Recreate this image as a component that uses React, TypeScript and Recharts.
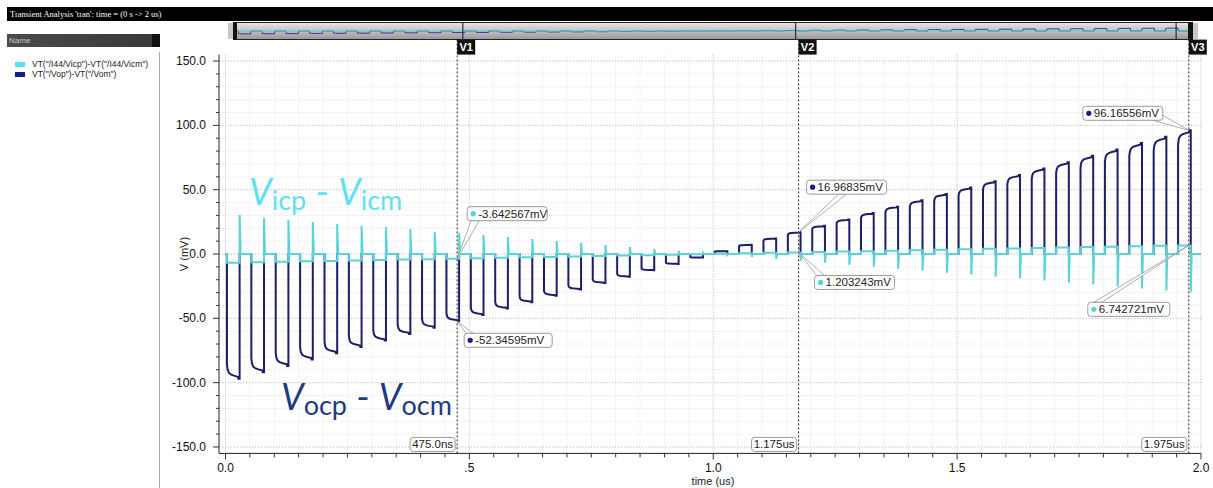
import React from 'react';
import { LineChart, Line, XAxis, YAxis, CartesianGrid, ReferenceLine, ReferenceDot } from 'recharts';

// amplify-phase window of each 50ns clock period (us)
const pulseStart = [
  0.003, 0.053, 0.103, 0.153, 0.203, 0.253, 0.303, 0.353, 0.403, 0.453,
  0.503, 0.553, 0.603, 0.653, 0.703, 0.753, 0.803, 0.853, 0.903, 0.953,
  1.003, 1.053, 1.103, 1.153, 1.203, 1.253, 1.303, 1.353, 1.403, 1.453,
  1.503, 1.553, 1.603, 1.653, 1.703, 1.753, 1.803, 1.853, 1.903, 1.953,
];
const pulseEnd = [
  0.029, 0.079, 0.129, 0.179, 0.229, 0.279, 0.329, 0.379, 0.429, 0.479,
  0.529, 0.579, 0.629, 0.679, 0.729, 0.779, 0.829, 0.879, 0.929, 0.979,
  1.029, 1.079, 1.129, 1.179, 1.229, 1.279, 1.329, 1.379, 1.429, 1.479,
  1.529, 1.579, 1.629, 1.679, 1.729, 1.779, 1.829, 1.879, 1.929, 1.979,
];

// settled output level at the end of each pulse, Vop-Vom (mV)
const voLevel = [
  -97.0, -92.0, -87.1, -82.1, -77.2, -72.2, -67.3, -62.2, -57.3, -52.3,
  -47.4, -42.4, -37.5, -32.5, -27.6, -22.6, -17.7, -12.7, -7.7, -2.8,
  2.2, 7.1, 12.1, 17.0, 21.9, 26.9, 31.8, 36.8, 41.7, 46.7,
  51.6, 56.6, 61.5, 66.5, 71.4, 76.4, 81.3, 86.3, 91.2, 96.2,
];

// input level during each pulse, Vicp-Vicm (mV)
const viLevel = [
  -6.8, -6.4, -6.1, -5.7, -5.4, -5.0, -4.7, -4.3, -4.0, -3.6,
  -3.3, -2.9, -2.6, -2.3, -1.9, -1.6, -1.2, -0.9, -0.5, -0.2,
  0.2, 0.5, 0.9, 1.2, 1.5, 1.9, 2.2, 2.6, 2.9, 3.3,
  3.6, 4.0, 4.3, 4.7, 5.0, 5.4, 5.7, 6.0, 6.4, 6.7,
];

// kick-back spike on the input at the end of each pulse (mV)
const viSpike = [
  30.3, 28.0, 26.4, 24.9, 23.3, 21.8, 21.0, 19.4, 17.0, 16.3,
  14.7, 13.2, 11.6, 10.1, 8.6, 7.0, 5.5, 3.9, 2.4, 0.9,
  -0.7, -2.2, -3.8, -5.3, -6.8, -8.4, -9.9, -11.4, -13.0, -14.5,
  -16.0, -17.6, -19.1, -20.6, -22.2, -23.7, -25.3, -26.8, -28.3, -29.8,
];

// shape of one output pulse (fraction of width, fraction of level)
const settleTime = [0, 0, 0.05, 0.14, 0.3, 0.55, 0.88, 0.9, 1, 1];
const settleLevel = [0, 0.88, 0.925, 0.95, 0.965, 0.975, 0.985, 1, 1, 0];

// markers
const markerTimes = [0.475, 1.175, 1.975];
const markerNames = ['V1', 'V2', 'V3'];
const markerTexts = ['475.0ns', '1.175us', '1.975us'];
const markerVo = [-52.34595, 16.96835, 96.16556];
const markerVi = [-3.642567, 1.203243, 6.742721];
const markerVoText = ['-52.34595mV', '16.96835mV', '96.16556mV'];
const markerViText = ['-3.642567mV', '1.203243mV', '6.742721mV'];

const xMajorTicks = [0, 0.5, 1.0, 1.5, 2.0];
const xMajorLabels = ['0.0', '.5', '1.0', '1.5', '2.0'];
const yMajorTicks = [-150, -100, -50, 0, 50, 100, 150];

const xMinorTicks = Array.from({ length: 41 }, (_, i) => Math.round(i * 5) / 100);
const yMinorTicks = Array.from({ length: 31 }, (_, i) => -150 + i * 10);

const VO_COLOR = '#1c1e66';
const VI_COLOR = '#58d4d8';
const AXIS_FONT = '"Liberation Sans", Arial, sans-serif';

const voData: { t: number; v: number }[] = [{ t: 0, v: 0 }];
const viData: { t: number; v: number }[] = [{ t: 0, v: 0 }];
pulseStart.forEach((s, k) => {
  const e = pulseEnd[k];
  settleTime.forEach((f, j) => {
    voData.push({ t: s + f * (e - s), v: settleLevel[j] * voLevel[k] });
  });
  viData.push({ t: s, v: 0 });
  viData.push({ t: s, v: viLevel[k] });
  viData.push({ t: e, v: viLevel[k] });
  viData.push({ t: e, v: viSpike[k] });
  viData.push({ t: e + 0.002, v: 0 });
});
voData.push({ t: 2, v: 0 });
viData.push({ t: 2, v: 0 });

// callout placement relative to the marked point (box offset, width, tail anchors on the box)
const voBox = [
  { dx: 7, dy: 12, w: 88, a: [2, 0, 9, 0] },
  { dx: 8, dy: -52, w: 80, a: [32, 14, 40, 14] },
  { dx: -106, dy: -24, w: 80, a: [70, 14, 80, 9] },
];
const viBox = [
  { dx: 10, dy: -52, w: 80, a: [4, 14, 12, 14] },
  { dx: 16, dy: 23, w: 80, a: [2, 0, 10, 0] },
  { dx: -101, dy: 57, w: 82, a: [6, 0, 14, 0] },
];

function XTick({ x, y, payload }: any) {
  const v = payload.value;
  const idx = xMajorTicks.findIndex((m) => Math.abs(m - v) < 1e-6);
  return (
    <g>
      <line x1={x} x2={x} y1={y} y2={y + (idx >= 0 ? 6 : 4)} stroke="#333" />
      {idx >= 0 && (
        <text x={x} y={y + 19} textAnchor="middle" fontSize={12} fill="#111" fontFamily={AXIS_FONT}>
          {xMajorLabels[idx]}
        </text>
      )}
    </g>
  );
}

function YTick({ x, y, payload }: any) {
  const v = payload.value;
  const major = yMajorTicks.includes(v);
  return (
    <g>
      <line x1={x - (major ? 6 : 3)} x2={x} y1={y} y2={y} stroke="#333" />
      {major && (
        <text x={x - 13} y={y + 4} textAnchor="end" fontSize={12} fill="#111" fontFamily={AXIS_FONT}>
          {v.toFixed(1)}
        </text>
      )}
    </g>
  );
}

function MarkerTag({ viewBox, name, text }: any) {
  const { x, y, height } = viewBox;
  const bottom = y + height;
  return (
    <g>
      <line x1={x} x2={x} y1={y - 15} y2={y} stroke="#222" strokeDasharray="2 2" />
      <rect x={x} y={y - 15} width={18} height={15} fill="#111" />
      <text x={x + 9} y={y - 4} textAnchor="middle" fontSize={11} fontWeight="bold" fill="#fff" fontFamily={AXIS_FONT}>
        {name}
      </text>
      <rect x={x - 47} y={bottom - 16} width={45} height={14} rx={3} fill="#fff" stroke="#9a9a9a" />
      <text x={x - 24.5} y={bottom - 5} textAnchor="middle" fontSize={11.5} fill="#222" fontFamily={AXIS_FONT}>
        {text}
      </text>
    </g>
  );
}

function Callout({ cx, cy, box, text, color }: any) {
  const bx = cx + box.dx;
  const by = cy + box.dy;
  const [a1x, a1y, a2x, a2y] = box.a;
  return (
    <g>
      <polygon
        points={`${cx},${cy} ${bx + a1x},${by + a1y} ${bx + a2x},${by + a2y}`}
        fill="#fff"
        stroke="#9a9a9a"
        strokeWidth={0.8}
      />
      <rect x={bx} y={by} width={box.w} height={14} rx={3} fill="#fff" stroke="#9a9a9a" />
      <circle cx={bx + 6} cy={by + 7} r={2.6} fill={color} />
      <text x={bx + 11} y={by + 11} fontSize={11.5} fill="#222" fontFamily={AXIS_FONT}>
        {text}
      </text>
    </g>
  );
}

function Navigator() {
  return (
    <div style={{ position: 'absolute', left: 228, top: 22, width: 970, height: 18 }}>
      <div style={{ position: 'absolute', left: 0, top: 1, width: 5, height: 16, background: '#c8c8c8' }} />
      <div style={{ position: 'absolute', left: 5, top: 0, width: 4, height: 18, background: '#111' }} />
      <div
        style={{
          position: 'absolute',
          left: 9,
          top: 0,
          width: 951,
          height: 16,
          borderTop: '1px solid #222',
          borderBottom: '1px solid #222',
          background: 'linear-gradient(#e4e4e4, #c4c4c4 45%, #9a9a9a)',
        }}
      />
      <div style={{ position: 'absolute', left: 960, top: 0, width: 5, height: 18, background: '#111' }} />
      <div style={{ position: 'absolute', left: 965, top: 1, width: 5, height: 16, background: '#c8c8c8' }} />
      <div style={{ position: 'absolute', left: 9, top: 1 }}>
        <LineChart width={951} height={16} margin={{ top: 0, right: 0, bottom: 0, left: 0 }}>
          <XAxis type="number" dataKey="t" domain={[0, 2]} hide />
          <YAxis type="number" domain={[-260, 260]} hide />
          <Line data={voData} dataKey="v" stroke="#2a3a9a" strokeWidth={1} dot={false} isAnimationActive={false} />
          <Line data={viData} dataKey="v" stroke={VI_COLOR} strokeWidth={1} dot={false} isAnimationActive={false} />
          {markerTimes.map((t) => (
            <ReferenceLine key={t} x={t} stroke="#111" />
          ))}
        </LineChart>
      </div>
    </div>
  );
}

export default function App() {
  return (
    <div style={{ position: 'absolute', left: 0, top: 0, width: 1213, height: 488, background: '#fff', overflow: 'hidden' }}>
      {/* title bar */}
      <div
        style={{
          position: 'absolute',
          left: 7,
          top: 7,
          width: 1206,
          height: 14,
          background: '#000',
          color: '#fff',
          fontFamily: '"Liberation Serif", serif',
          fontSize: 8.5,
          lineHeight: '14px',
          paddingLeft: 3,
          boxSizing: 'border-box',
          whiteSpace: 'nowrap',
        }}
      >
        Transient Analysis 'tran': time = (0 s -&gt; 2 us)
      </div>

      {/* left name pane */}
      <div
        style={{
          position: 'absolute',
          left: 7,
          top: 34,
          width: 153,
          height: 13,
          background: 'linear-gradient(90deg, #4a4a4a, #3a3a3a 95%, #111 95%)',
          color: '#c8c8c8',
          fontFamily: AXIS_FONT,
          fontSize: 8,
          lineHeight: '13px',
          paddingLeft: 2,
          boxSizing: 'border-box',
        }}
      >
        Name
      </div>
      <div style={{ position: 'absolute', left: 159, top: 52, width: 1, height: 436, background: '#aaa' }} />
      <div style={{ position: 'absolute', left: 15, top: 62, width: 10, height: 5, background: '#5fdfe6' }} />
      <div style={{ position: 'absolute', left: 15, top: 72, width: 10, height: 5, background: '#1a1a8c' }} />
      <div style={{ position: 'absolute', left: 32, top: 59, fontFamily: AXIS_FONT, fontSize: 8.5, color: '#222', lineHeight: '10px', whiteSpace: 'nowrap' }}>
        VT("/I44/Vicp")-VT("/I44/Vicm")
        <br />
        VT("/Vop")-VT("/Vom")
      </div>

      <Navigator />

      <div style={{ position: 'absolute', left: 0, top: 0 }}>
        <LineChart width={1213} height={488} margin={{ top: 54.6, right: 12, bottom: 4.6, left: 159 }}>
          <CartesianGrid horizontalValues={yMinorTicks} verticalValues={xMinorTicks} stroke="#e8e8e8" strokeDasharray="1 1" />
          <CartesianGrid horizontalValues={yMajorTicks} verticalValues={xMajorTicks} stroke="#c4c4c4" strokeDasharray="1 2" />
          <XAxis
            type="number"
            dataKey="t"
            domain={[-0.0133, 2]}
            ticks={xMinorTicks}
            interval={0}
            tick={<XTick />}
            tickLine={false}
            tickSize={0}
            tickMargin={0}
            axisLine={{ stroke: '#222' }}
            height={30}
          />
          <YAxis
            type="number"
            domain={[-155, 155]}
            ticks={yMinorTicks}
            interval={0}
            tick={<YTick />}
            tickLine={false}
            tickSize={0}
            tickMargin={0}
            axisLine={{ stroke: '#222' }}
            width={60}
          />
          <Line data={voData} dataKey="v" stroke={VO_COLOR} strokeWidth={2} dot={false} isAnimationActive={false} />
          <Line data={viData} dataKey="v" stroke={VI_COLOR} strokeWidth={2} dot={false} isAnimationActive={false} />
          {markerTimes.map((t, i) => (
            <ReferenceLine
              key={t}
              x={t}
              stroke="#222"
              strokeDasharray="2 2"
              label={<MarkerTag name={markerNames[i]} text={markerTexts[i]} />}
            />
          ))}
          {markerTimes.map((t, i) => (
            <ReferenceDot
              key={'vi' + t}
              x={t}
              y={markerVi[i]}
              shape={(p: any) => <Callout cx={p.cx} cy={p.cy} box={viBox[i]} text={markerViText[i]} color={VI_COLOR} />}
            />
          ))}
          {markerTimes.map((t, i) => (
            <ReferenceDot
              key={'vo' + t}
              x={t}
              y={markerVo[i]}
              shape={(p: any) => <Callout cx={p.cx} cy={p.cy} box={voBox[i]} text={markerVoText[i]} color="#1a1a8c" />}
            />
          ))}
        </LineChart>
      </div>

      {/* axis titles and trace annotations */}
      <svg width={1213} height={488} style={{ position: 'absolute', left: 0, top: 0, pointerEvents: 'none' }}>
        <text x={188} y={254} transform="rotate(-90 188 254)" textAnchor="middle" fontSize={11} fill="#222" fontFamily={AXIS_FONT}>
          V (mV)
        </text>
        <text x={713} y={485} textAnchor="middle" fontSize={11} fill="#222" fontFamily={AXIS_FONT}>
          time (us)
        </text>
        <text x={249} y={205} fontFamily="Lato, sans-serif" fontSize={36} fill="#5ee2f0">
          <tspan fontStyle="italic">V</tspan>
          <tspan fontSize={27} dy={5}>icp</tspan>
          <tspan dy={-5}> - </tspan>
          <tspan fontStyle="italic">V</tspan>
          <tspan fontSize={27} dy={5}>icm</tspan>
        </text>
        <text x={281} y={410} fontFamily="Lato, sans-serif" fontSize={36} fill="#1f3a84">
          <tspan fontStyle="italic">V</tspan>
          <tspan fontSize={27} dy={5}>ocp</tspan>
          <tspan dy={-5}> - </tspan>
          <tspan fontStyle="italic">V</tspan>
          <tspan fontSize={27} dy={5}>ocm</tspan>
        </text>
      </svg>
    </div>
  );
}
